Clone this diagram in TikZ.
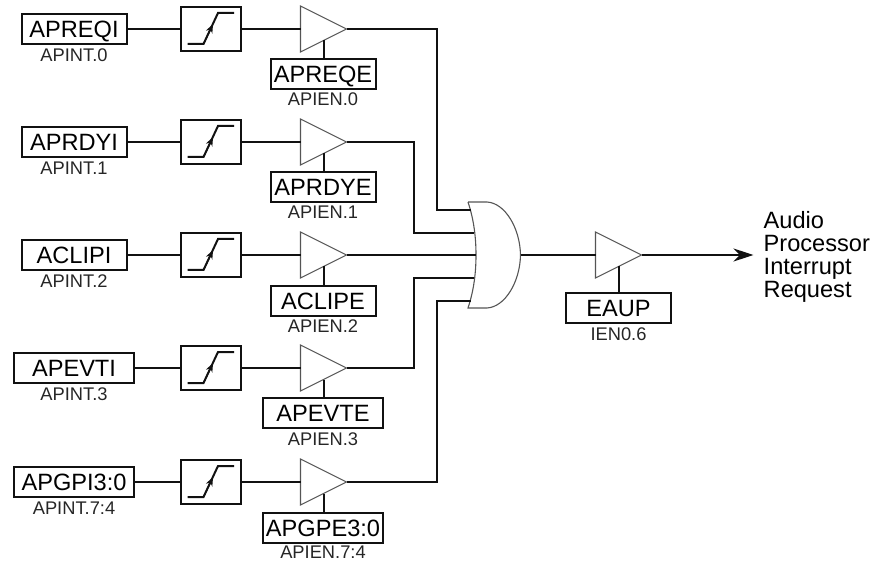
\documentclass[tikz,border=0pt]{standalone}
\usepackage{fontspec}
\setmainfont{Liberation Sans}
\usepackage{xcolor}
\usetikzlibrary{positioning,arrows.meta,calc,shapes.geometric}
\definecolor{gateGray}{HTML}{555555}
\definecolor{inkBlack}{HTML}{111111}

\begin{document}
\begin{tikzpicture}[x=1pt, y=-1pt,
  wire/.style={line width=2pt, inkBlack},
  flagbox/.style={draw=inkBlack, line width=2pt, minimum width=105pt, minimum height=30pt, inner sep=0pt, text height=17pt, text depth=0pt, font=\fontsize{23.6}{25}\selectfont},
  widebox/.style={flagbox, minimum width=120pt},
  bitlabel/.style={inner sep=0pt, text=black!85, text height=13pt, text depth=0pt, font=\fontsize{18.3}{20}\selectfont},
  buffer/.style={draw=gateGray, line width=1.1pt, fill=white, isosceles triangle, isosceles triangle stretches, shape border rotate=0, minimum width=46pt, minimum height=46pt, inner sep=0pt, outer sep=0pt, anchor=apex},
  sync/.style={draw=inkBlack, line width=2pt, minimum width=60pt, minimum height=44pt, inner sep=0pt,
    path picture={
      \draw[wire] ($(path picture bounding box.center)+(-23,15)$) -- ++(16,0) -- ++(14.5,-31) -- ++(16,0);
      \draw[line width=1.3pt, inkBlack, -{Stealth[length=9pt,width=7pt]}] ($(path picture bounding box.center)+(-7,15)$) -- ($(path picture bounding box.center)+(2.5,-5)$);
    }},
]
  \useasboundingbox (0,0) rectangle (883,561);

  % Interrupt flags
  \node[flagbox] (apreqi) at (74,29) {APREQI};
  \node[flagbox] (aprdyi) at (74,142) {APRDYI};
  \node[flagbox] (aclipi) at (74,255) {ACLIPI};
  \node[widebox] (apevti) at (74,368) {APEVTI};
  \node[widebox] (apgpi) at (74,482) {APGPI3:0};

  \node[bitlabel] (apint0) at (74,55) {APINT.0};
  \node[bitlabel] (apint1) at (74,168) {APINT.1};
  \node[bitlabel] (apint2) at (74,281) {APINT.2};
  \node[bitlabel] (apint3) at (74,394) {APINT.3};
  \node[bitlabel] (apint4) at (74,508) {APINT.7:4};

  % Synchronizers
  \node[sync] (sync0) at (210.5,29) {};
  \node[sync] (sync1) at (210.5,142) {};
  \node[sync] (sync2) at (210.5,255) {};
  \node[sync] (sync3) at (210.5,368) {};
  \node[sync] (sync4) at (210.5,482) {};

  % Enable buffers
  \node[buffer] (buf0) at (346.5,29) {};
  \node[buffer] (buf1) at (346.5,142) {};
  \node[buffer] (buf2) at (346.5,255) {};
  \node[buffer] (buf3) at (346.5,368) {};
  \node[buffer] (buf4) at (346.5,482) {};
  \node[buffer] (buf5) at (641.5,255) {};

  % Enable flags
  \node[flagbox] (apreqe) at (323,74) {APREQE};
  \node[flagbox] (aprdye) at (323,187) {APRDYE};
  \node[flagbox] (aclipe) at (323,300.5) {ACLIPE};
  \node[widebox] (apevte) at (323,413) {APEVTE};
  \node[widebox] (apgpe) at (323,528) {APGPE3:0};
  \node[flagbox] (eaup) at (618.5,308) {EAUP};

  \node[bitlabel] (apien0) at (323,99.5) {APIEN.0};
  \node[bitlabel] (apien1) at (323,212.5) {APIEN.1};
  \node[bitlabel] (apien2) at (323,326) {APIEN.2};
  \node[bitlabel] (apien3) at (323,439) {APIEN.3};
  \node[bitlabel] (apien4) at (323,552) {APIEN.7:4};
  \node[bitlabel] (ien06) at (618.5,334) {IEN0.6};

  % OR gate
  \draw[gateGray, line width=1.1pt, fill=white] (468,202) -- (487,202)
    .. controls (505,203) and (520,228) .. (520.5,255)
    .. controls (520,282) and (505,307) .. (487,308) -- (468,308)
    .. controls (474,290) and (476,272) .. (476,255)
    .. controls (476,238) and (474,220) .. (468,202);
  \coordinate (orin0) at (470.5,210);
  \coordinate (orin1) at (473.5,233);
  \coordinate (orin2) at (475.5,255);
  \coordinate (orin3) at (473.5,278);
  \coordinate (orin4) at (470.5,301);
  \coordinate (orout) at (520.5,255);

  \coordinate (bus0) at (437,210);
  \coordinate (bus1) at (414,233);
  \coordinate (bus3) at (414,278);
  \coordinate (bus4) at (437,301);

  \coordinate (tick0) at ($(buf0.apex)+(-23,11.5)$);
  \coordinate (tick1) at ($(buf1.apex)+(-23,11.5)$);
  \coordinate (tick2) at ($(buf2.apex)+(-23,11.5)$);
  \coordinate (tick3) at ($(buf3.apex)+(-23,11.5)$);
  \coordinate (tick4) at ($(buf4.apex)+(-23,11.5)$);
  \coordinate (tick5) at ($(buf5.apex)+(-23,11.5)$);

  \node[anchor=west, align=left, inner ysep=0pt, inner xsep=10pt, font=\fontsize{23.6}{23.1}\selectfont] (request) at (753.5,257) {Audio\\Processor\\Interrupt\\Request};

  % Flag to synchronizer to buffer
  \draw[wire] (apreqi) -- (sync0);
  \draw[wire] (aprdyi) -- (sync1);
  \draw[wire] (aclipi) -- (sync2);
  \draw[wire] (apevti) -- (sync3);
  \draw[wire] (apgpi) -- (sync4);
  \draw[wire] (sync0) -- (buf0.west |- sync0);
  \draw[wire] (sync1) -- (buf1.west |- sync1);
  \draw[wire] (sync2) -- (buf2.west |- sync2);
  \draw[wire] (sync3) -- (buf3.west |- sync3);
  \draw[wire] (sync4) -- (buf4.west |- sync4);

  % Enable ticks
  \draw[wire] (tick0) -- (tick0 |- apreqe.north);
  \draw[wire] (tick1) -- (tick1 |- aprdye.north);
  \draw[wire] (tick2) -- (tick2 |- aclipe.north);
  \draw[wire] (tick3) -- (tick3 |- apevte.north);
  \draw[wire] (tick4) -- (tick4 |- apgpe.north);
  \draw[wire] (tick5) -- (tick5 |- eaup.north);

  % Into the OR gate
  \draw[wire] (buf0.apex) -| (bus0) -- (orin0);
  \draw[wire] (buf1.apex) -| (bus1) -- (orin1);
  \draw[wire] (buf2.apex) -- (orin2);
  \draw[wire] (buf3.apex) -| (bus3) -- (orin3);
  \draw[wire] (buf4.apex) -| (bus4) -- (orin4);

  % Output
  \draw[wire] (orout) -- (buf5.west |- orout);
  \draw[wire, -{Stealth[length=20pt,width=13pt]}] (buf5.apex) -- (buf5.apex -| request.west);
\end{tikzpicture}
\end{document}
